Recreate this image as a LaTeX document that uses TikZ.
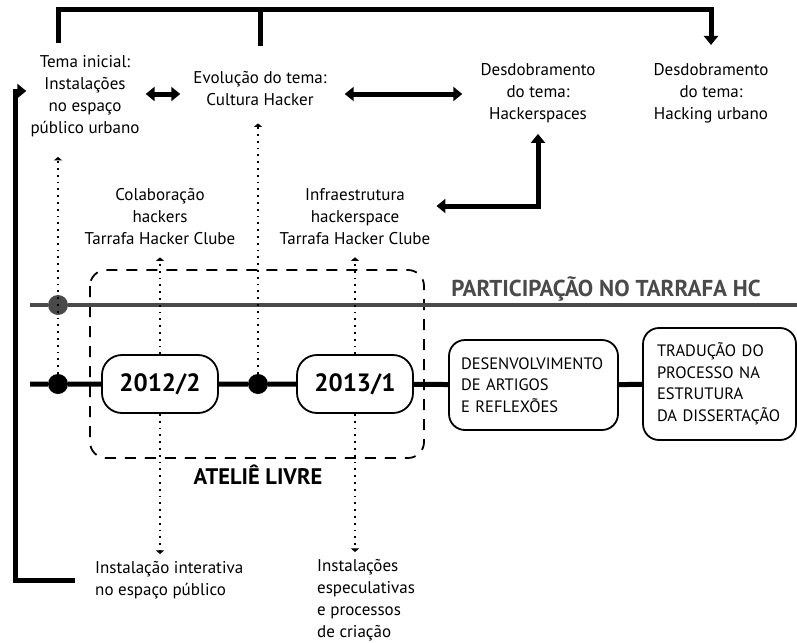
\documentclass[tikz,border=0pt]{standalone}
\usepackage{fontspec}
\setmainfont{PT Sans}
\usetikzlibrary{arrows.meta,positioning}
\definecolor{hcgray}{HTML}{4A4A4A}

\begin{document}
\begin{tikzpicture}[x=1pt,y=-1pt,
    txt/.style={align=center, inner sep=3pt, font=\fontsize{17}{22}\selectfont},
    heavy/.style={line width=5pt},
    bigtip/.style={-{Triangle[length=9pt,width=14pt]}},
    bothtips/.style={{Triangle[length=9pt,width=14pt]}-{Triangle[length=9pt,width=14pt]}},
    dots/.style={line width=1.8pt, dash pattern=on 1.8pt off 5pt, -{Triangle[length=3.5pt,width=8pt]}},
    dot/.style={circle, fill=black, inner sep=0pt, minimum size=20pt},
    stage/.style={draw, fill=white, line width=1.8pt, rounded corners=20pt,
      minimum width=116pt, minimum height=58pt, font=\bfseries\fontsize{25}{28}\selectfont},
    phase/.style={draw, fill=white, line width=1.8pt, rounded corners=16pt, align=left,
      inner xsep=12pt, font=\fontsize{16.5}{21.5}\selectfont}]

  \useasboundingbox (0,0) rectangle (797,642);

  % temas
  \node[txt] (tema) at (85,96) {Tema inicial:\\Instalações\\no espaço\\público urbano};
  \node[txt] (evol) at (260,89) {Evolução do tema:\\Cultura Hacker};
  \node[txt] (hsp) at (538,93) {Desdobramento\\do tema:\\Hackerspaces};
  \node[txt] (hurb) at (711,93) {Desdobramento\\do tema:\\Hacking urbano};

  \node[txt] (colab) at (160,217) {Colaboração\\hackers\\Tarrafa Hacker Clube};
  \node[txt] (infra) at (355,217) {Infraestrutura\\hackerspace\\Tarrafa Hacker Clube};

  \node[txt, align=left, anchor=west] (inst) at (92,580) {Instalação interativa\\no espaço público};
  \node[txt, align=left, anchor=west] (espec) at (314,600) {Instalações\\especulativas\\e processos\\de criação};

  % ateliê
  \draw[line width=1.8pt, dash pattern=on 11pt off 9pt, rounded corners=16pt] (90,270) rectangle (424,458);
  \node[txt, font=\bfseries\fontsize{22.5}{26}\selectfont] (atelie) at (258,475) {ATELIÊ LIVRE};

  % tarrafa
  \coordinate (pstart) at (30,305);
  \coordinate (pend) at (797,305);
  \node[dot, fill=hcgray] (g1) at (58,305) {};
  \draw[hcgray, line width=4pt] (pstart) -- (g1) -- (pend);
  \node[txt, text=hcgray, font=\bfseries\fontsize{23}{26}\selectfont] (part) at (606,289) {PARTICIPAÇÃO NO TARRAFA HC};

  % linha do tempo
  \coordinate (tstart) at (30,384);
  \node[dot] (d1) at (58,384) {};
  \node[dot] (d2) at (258,384) {};
  \node[stage] (s1) at (160,384) {2012/2};
  \node[stage] (s2) at (355,384) {2013/1};
  \node[phase, text width=145pt, minimum height=90pt] (desenv) at (533.5,385) {DESENVOLVIMENTO\\DE ARTIGOS\\E REFLEXÕES};
  \node[phase, text width=125pt, inner xsep=14pt, minimum height=112pt] (tradu) at (719.5,384) {TRADUÇÃO DO\\PROCESSO NA\\ESTRUTURA\\DA DISSERTAÇÃO};
  \draw[heavy] (tstart) -- (d1) -- (s1) -- (d2) -- (s2) -- (desenv) -- (tradu);

  % setas pontilhadas
  \draw[dots, shorten >=17pt] (d1) -- (d1 |- tema.south);
  \draw[dots, shorten >=14pt] (d2) -- (d2 |- evol.south);
  \draw[dots, shorten >=9pt] (s1) -- (s1 |- colab.south);
  \draw[dots, shorten >=4pt] (s1) -- (s1 |- inst.north);
  \draw[dots, shorten >=9pt] (s2) -- (s2 |- infra.south);
  \draw[dots, shorten >=4pt] (s2) -- (s2 |- espec.north);

  % setas grossas
  \coordinate (bar) at (0,10);
  \draw[heavy, bigtip, shorten <=9pt, shorten >=15pt] ([xshift=-27pt]tema.north) -- ([xshift=-27pt]tema.north |- bar) -| (hurb.north);
  \draw[heavy, shorten <=23pt] (evol.north) -- (evol.north |- bar);
  \draw[heavy, bothtips, shorten <=3pt, shorten >=10pt] ([yshift=2pt]tema.east) -- ([yshift=2pt]tema.east -| evol.west);
  \draw[heavy, bothtips, shorten <=15pt, shorten >=15pt] ([yshift=-5pt]evol.east) -- ([yshift=-5pt]evol.east -| hsp.west);
  \draw[heavy, bothtips, shorten <=3pt, shorten >=8pt] ([yshift=11pt]infra.east) -| (hsp.south);
  \draw[heavy, bigtip, shorten >=1pt] ([xshift=-17pt]inst.west) -| ([xshift=-12pt,yshift=5pt]tema.west) -- ([yshift=5pt]tema.west);

\end{tikzpicture}
\end{document}
